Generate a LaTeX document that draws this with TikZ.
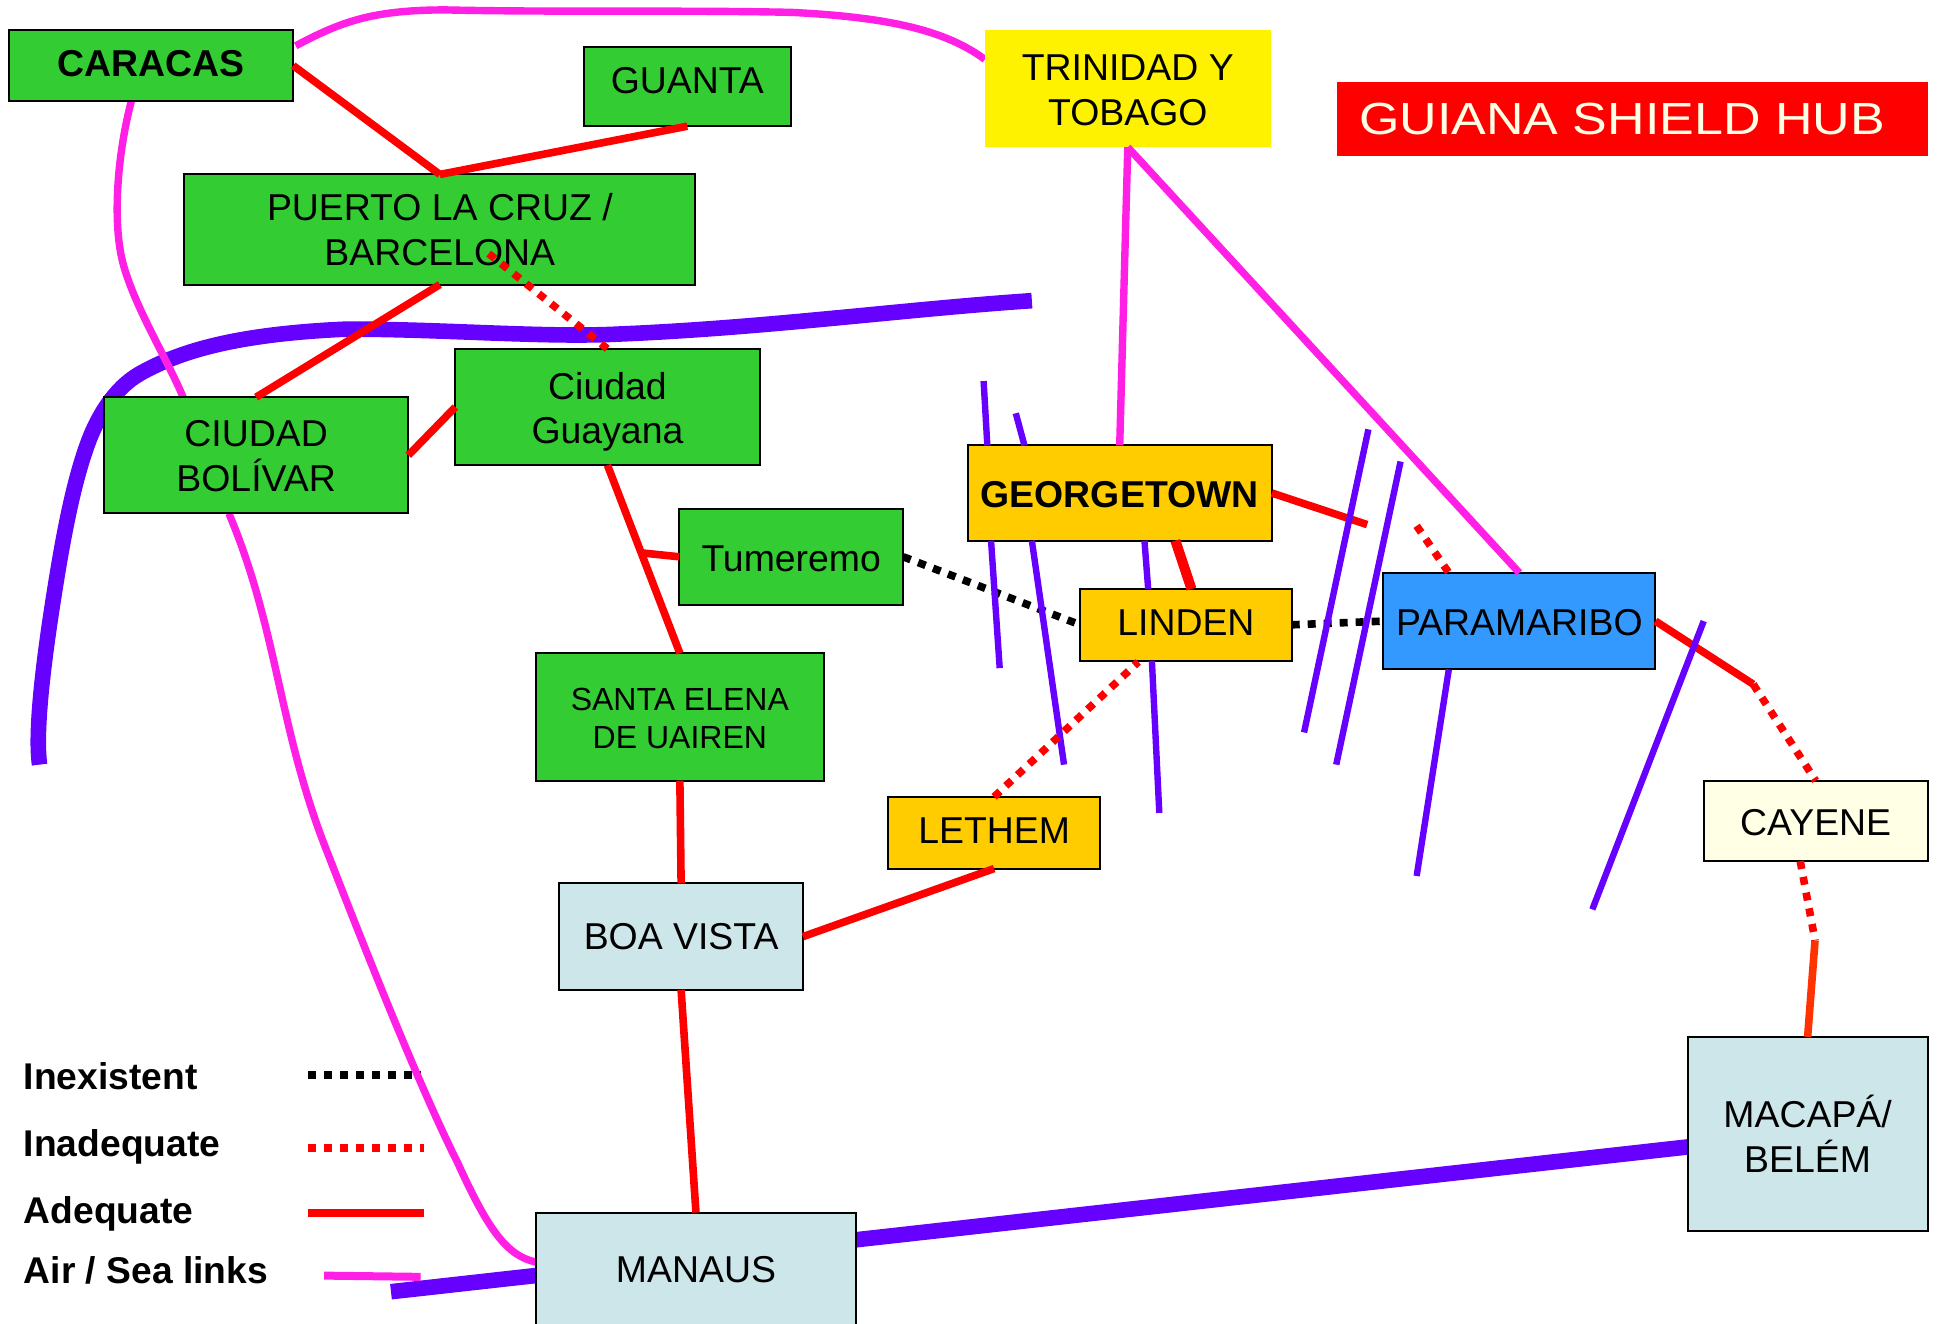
\documentclass[tikz,border=0pt]{standalone}
\usepackage{fontspec}
\setmainfont{Liberation Sans}
\newfontfamily\titlefont[FakeStretch=1.155]{Liberation Sans}
\definecolor{grn}{HTML}{33CC33}
\definecolor{gold}{HTML}{FFCC00}
\definecolor{pale}{HTML}{CCE6EA}
\definecolor{ivory}{HTML}{FFFFE5}
\definecolor{skyb}{HTML}{3399FF}
\definecolor{purp}{HTML}{6600FF}
\definecolor{pnk}{HTML}{FF1FE5}
\definecolor{orred}{HTML}{FF3300}
\def\uu{0.6186pt}
% invisible struts that nudge the text inside a box: up (last line) or down (first line)
\newcommand{\nudgeup}[1]{\rule[-#1]{0pt}{#1}}
\newcommand{\nudgedn}[1]{\rule{0pt}{#1}}
\tikzset{
  x=0.6186pt,y=-0.6186pt,
  box/.style={draw=black,line width=1pt,inner sep=0pt,outer sep=0pt,align=center,text=black,
    font=\fontsize{18.7}{22.3}\selectfont},
  bld/.style={font=\fontsize{18.7}{22.3}\selectfont\bfseries},
  legtext/.style={anchor=west,inner sep=0pt,font=\fontsize{18.6}{22.3}\selectfont\bfseries},
  good/.style={draw=red,line width=3.8pt},
  poor/.style={draw=red,line width=3.8pt,dash pattern=on 4pt off 4pt},
  none/.style={draw=black,line width=3.8pt,dash pattern=on 4pt off 4pt},
  air/.style={draw=pnk,line width=3.7pt},
  wall/.style={draw=purp,line width=3.2pt},
  river/.style={draw=purp,line width=7.8pt},
}
\begin{document}
\begin{tikzpicture}
\useasboundingbox (0,0) rectangle (1568,1070);
% free ends
\coordinate (rivS) at (32,618);
\coordinate (rivE) at (834,243);
\coordinate (amaW) at (316,1044);
\coordinate (amaE) at (1364,927);
\coordinate (tmJ) at (520,447);
\coordinate (gtX) at (1105,424);
\coordinate (prX) at (1145,425);
\coordinate (prY) at (1171,463);
\coordinate (prJ) at (1417,553);
\coordinate (cyJ) at (1467,760);
\coordinate (cyB) at (1455,696);
\coordinate (gtB) at (950,437);
\coordinate (lnT) at (963,476);
\coordinate (lnB) at (920,535);
\coordinate (ptI) at (395,205);
\coordinate (crB) at (108,75);
\coordinate (crE) at (239,37);
\coordinate (cbT) at (148,321);
\coordinate (cbB) at (185,415);
\coordinate (mnW) at (433,1020);
\coordinate (trW) at (796,48);
\coordinate (lgA) at (249,869);\coordinate (lgB) at (340,869);
\coordinate (lgC) at (249,928);\coordinate (lgD) at (343,928);
\coordinate (lgE) at (249,980);\coordinate (lgF) at (343,980);
\coordinate (lgG) at (262,1031);\coordinate (lgH) at (340,1032);
% rivers
\draw[river] (rivS) .. controls (28,590) and (36,530) .. (43,485)
  .. controls (50,440) and (58,395) .. (70,361)
  .. controls (78,338) and (92,314) .. (113,302)
  .. controls (145,284) and (190,270) .. (280,266)
  .. controls (360,266) and (440,273) .. (500,270)
  .. controls (620,265) and (730,250) .. (rivE);
\draw[river] (amaW) -- (amaE);
% legend lines
\draw[none] (lgA) -- (lgB);
\draw[poor] (lgC) -- (lgD);
\draw[good,line width=4pt] (lgE) -- (lgF);
\draw[air,line width=4pt] (lgG) -- (lgH);
% long air links
\draw[air] (crE) .. controls (275,18) and (300,8) .. (360,8)
  .. controls (450,10) and (550,8) .. (640,10)
  .. controls (720,14) and (765,25) .. (trW);
\draw[air] (crB) .. controls (95,120) and (90,180) .. (100,215)
  .. controls (110,250) and (135,290) .. (cbT);
\draw[air] (cbB) .. controls (225,510) and (225,590) .. (265,690)
  .. controls (300,780) and (340,880) .. (370,940)
  .. controls (395,995) and (410,1015) .. (mnW);
% boxes
\node[box,fill=grn,bld,minimum width=230*\uu,minimum height=58*\uu] (car) at (122,53) {CARACAS\nudgeup{2.6pt}};
\node[box,fill=grn,minimum width=167*\uu,minimum height=64*\uu] (gua) at (555.5,70) {GUANTA\nudgeup{6.2pt}};
\node[box,draw=none,fill=yellow,minimum width=231*\uu,minimum height=95*\uu] (tri) at (911.5,71.5) {\nudgedn{14.7pt}TRINIDAD Y\\TOBAGO};
\node[box,draw=none,fill=red,text=ivory,minimum width=477*\uu,minimum height=60*\uu,font=\titlefont\fontsize{22.5}{26}\selectfont] (hub) at (1319.5,96) {GUIANA SHIELD HUB\hspace*{10.5pt}};
\node[box,fill=grn,minimum width=413*\uu,minimum height=89*\uu] (pto) at (355.5,185.5) {PUERTO LA CRUZ /\\BARCELONA};
\node[box,fill=grn,minimum width=246*\uu,minimum height=94*\uu] (cgu) at (491,329) {\nudgedn{18.5pt}Ciudad\\Guayana};
\node[box,fill=grn,minimum width=246*\uu,minimum height=94*\uu] (cbo) at (207,368) {\nudgedn{14pt}CIUDAD\\BOLÍVAR};
\node[box,fill=gold,bld,minimum width=246*\uu,minimum height=77*\uu] (geo) at (905,398.5) {\nudgedn{14.9pt}GEORGETOWN};
\node[box,fill=grn,minimum width=181*\uu,minimum height=78*\uu] (tum) at (639.5,450) {\nudgedn{14.9pt}Tumeremo};
\node[box,fill=gold,minimum width=171*\uu,minimum height=58*\uu] (lin) at (958.5,505) {LINDEN\nudgeup{2.5pt}};
\node[box,fill=skyb,minimum width=220*\uu,minimum height=78*\uu] (par) at (1228,502) {\nudgedn{14.9pt}PARAMARIBO};
\node[box,fill=grn,minimum width=233*\uu,minimum height=103*\uu,font=\fontsize{16}{19}\selectfont] (sel) at (549.5,579.5) {\nudgedn{13pt}SANTA ELENA\\DE UAIREN};
\node[box,fill=gold,minimum width=171*\uu,minimum height=58*\uu] (let) at (803.5,673) {LETHEM\nudgeup{2.5pt}};
\node[box,fill=ivory,minimum width=181*\uu,minimum height=65*\uu] (cay) at (1467.5,663.5) {\nudgedn{14.9pt}CAYENE};
\node[box,fill=pale,minimum width=197*\uu,minimum height=86*\uu] (boa) at (550.5,757) {BOA VISTA};
\node[box,fill=pale,minimum width=194*\uu,minimum height=157*\uu] (mac) at (1461,916.5) {MACAPÁ/\\BELÉM};
\node[box,fill=pale,minimum width=259*\uu,minimum height=92*\uu] (man) at (562.5,1026) {MANAUS};
% legend text
\node[legtext] (t1) at (19,870) {Inexistent};
\node[legtext] (t2) at (19,927) {Inadequate};
\node[legtext] (t3) at (19,981) {Adequate};
\node[legtext] (t4) at (19,1027) {Air / Sea links};
% road links
\draw[good] (car.east) -- (pto.north);
\draw[good] (gua.south) -- (pto.north);
\draw[good] (pto.south) -- (cbo.north);
\draw[good] (cbo.east) -- (cgu.west);
\draw[good] (cgu.south) -- (sel.north);
\draw[good] (tum.west) -- (tmJ);
\draw[good] (sel.south) -- (boa.north);
\draw[good] (boa.east) -- (let.south);
\draw[good] (boa.south) -- (man.north);
\draw[good] (geo.east) -- (gtX);
\draw[good,line width=5pt] (gtB) -- (lnT);
\draw[good] (par.east) -- (prJ);
\draw[good,draw=orred] (cyJ) -- (mac.north);
\draw[none] (tum.east) -- (lin.west);
\draw[none] (lin.east) -- (par.west);
% thin rivers
\coordinate (w1a) at (795,308);\coordinate (w1b) at (808,540);
\coordinate (w2a) at (821,334);\coordinate (w2b) at (860,618);
\coordinate (w3a) at (925,437);\coordinate (w3b) at (937,657);
\coordinate (w4a) at (1106,347);\coordinate (w4b) at (1054,592);
\coordinate (w5a) at (1132,373);\coordinate (w5b) at (1080,618);
\coordinate (w6a) at (1171,541);\coordinate (w6b) at (1145,708);
\coordinate (w7a) at (1377,502);\coordinate (w7b) at (1287,735);
\coordinate (w1c) at (798,360);\coordinate (w1d) at (801,437);
\coordinate (w2c) at (828,360);\coordinate (w2d) at (834,437);
\coordinate (w3c) at (931,534);\coordinate (w3d) at (928,476);
\draw[wall] (w1a) -- (w1c);
\draw[wall] (w1d) -- (w1b);
\draw[wall] (w2a) -- (w2c);
\draw[wall] (w2d) -- (w2b);
\draw[wall] (w3a) -- (w3d);
\draw[wall] (w3c) -- (w3b);
\draw[wall] (w4a) -- (w4b);
\draw[wall] (w5a) -- (w5b);
\draw[wall] (w6a) -- (w6b);
\draw[wall] (w7a) -- (w7b);
% links drawn over the rivers
\draw[air] (tri.south) -- (geo.north);
\draw[air] (tri.south) -- (par.north);
\draw[poor] (ptI) -- (cgu.north);
\draw[poor] (let.north) -- (lnB);
\draw[poor] (prX) -- (prY);
\draw[poor] (prJ) -- (cay.north);
\draw[poor] (cyB) -- (cyJ);
\end{tikzpicture}
\end{document}
